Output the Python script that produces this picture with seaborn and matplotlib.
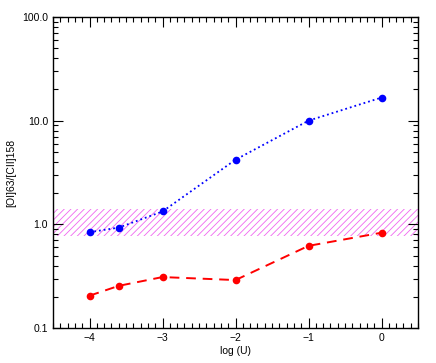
import matplotlib
matplotlib.use("Agg")
import matplotlib.pyplot as plt
import matplotlib.ticker as mticker
import seaborn as sns
import numpy as np

# data
log_u = [-4.0, -3.6, -3.0, -2.0, -1.0, 0.0]
ratio_blue = [0.84, 0.93, 1.33, 4.2, 10.0, 16.7]
ratio_red = [0.205, 0.255, 0.31, 0.29, 0.62, 0.83]
band_lo, band_hi = 0.78, 1.40

sns.set_style("ticks")
plt.rcParams['font.family'] = ['Liberation Sans', 'DejaVu Sans']
plt.rcParams['hatch.linewidth'] = 0.6
for k in ['text.color', 'axes.labelcolor', 'xtick.color', 'ytick.color']:
    plt.rcParams[k] = 'black'

fig = plt.figure(figsize=(4.36, 3.63), dpi=100)
ax = fig.add_axes([53/436, 1 - 328/363, 365/436, 311/363])

ax.axhspan(band_lo, band_hi, facecolor='none', edgecolor='#f066f0',
           hatch='/////', linewidth=0, zorder=0)

sns.lineplot(x=log_u, y=ratio_blue, ax=ax, color='blue', linestyle=':',
             linewidth=1.3, marker='o', markersize=5.5, markeredgewidth=0)
sns.lineplot(x=log_u, y=ratio_red, ax=ax, color='red', linestyle='--',
             linewidth=1.4, marker='o', markersize=5.5, markeredgewidth=0,
             dashes=False)
ax.lines[-1].set_linestyle((0, (5, 3.5)))

ax.set_yscale('log')
ax.set_xlim(-4.5, 0.5)
ax.set_ylim(0.1, 100)
ax.set_xticks([-4, -3, -2, -1, 0])
ax.xaxis.set_minor_locator(mticker.MultipleLocator(0.1))
ax.yaxis.set_major_locator(mticker.FixedLocator([0.1, 1, 10, 100]))
ax.yaxis.set_major_formatter(mticker.FuncFormatter(lambda v, p: f"{v:.1f}"))
ax.yaxis.set_minor_locator(mticker.LogLocator(base=10, subs=np.arange(2, 10)))
ax.yaxis.set_minor_formatter(mticker.NullFormatter())

ax.tick_params(which='both', direction='in', top=True, right=True,
               labelsize=7.5, width=0.8, colors='black')
ax.tick_params(which='major', length=7)
ax.tick_params(which='minor', length=3.5)
for s in ax.spines.values():
    s.set_linewidth(1.0)
    s.set_color('black')

ax.set_xlabel('log (U)', fontsize=7.5, labelpad=2)
ax.set_ylabel('[OI]63/[CII]158', fontsize=7.5, labelpad=4)

fig.savefig('out.png', dpi=100)
